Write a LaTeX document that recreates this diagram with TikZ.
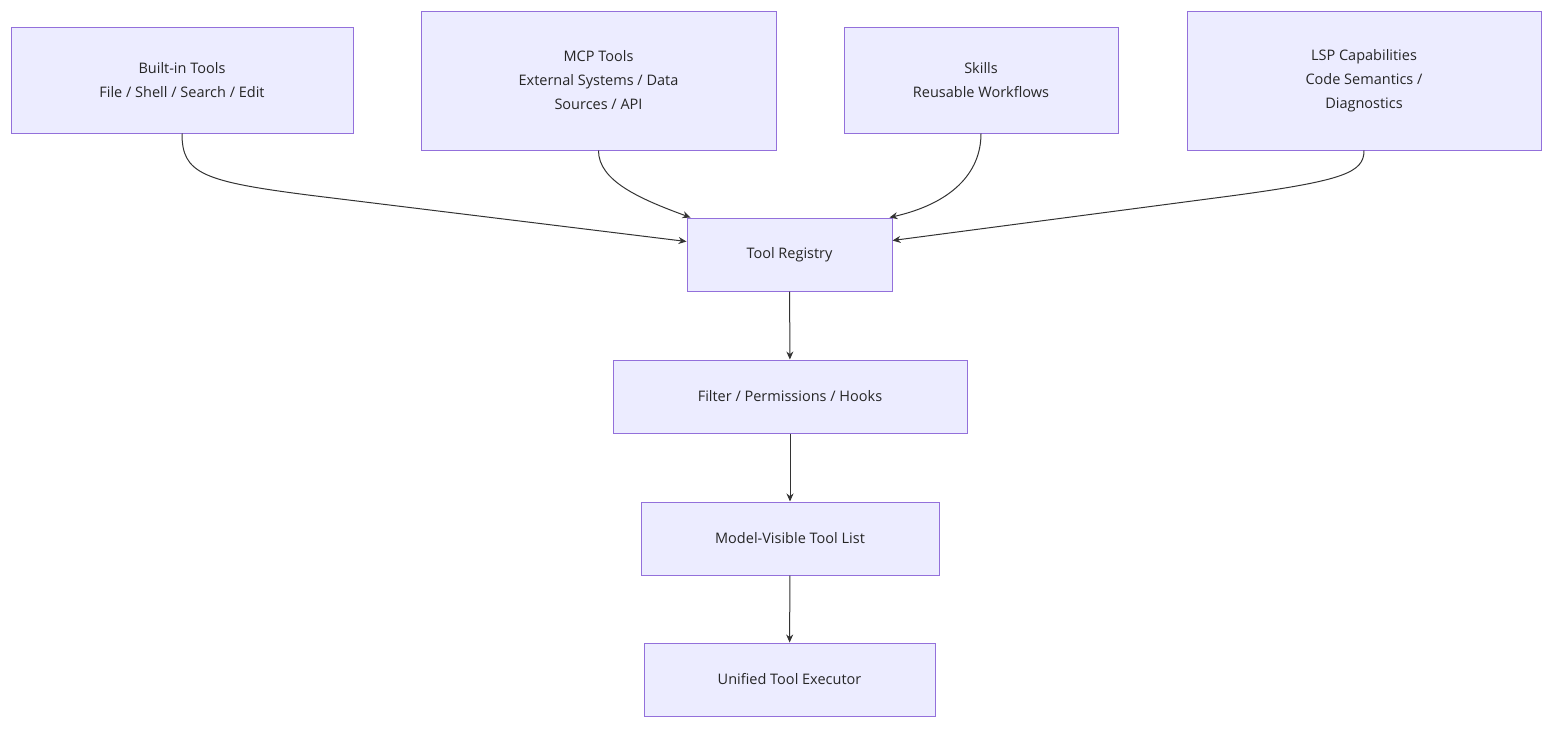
\documentclass[tikz,border=0pt]{standalone}
\usepackage{fontspec}
\setmainfont{Open Sans}
\usetikzlibrary{arrows.meta,calc}
\begin{document}
\begin{tikzpicture}[x=1pt,y=-1pt,
  box/.style={draw=mermaidb,fill=mermaidf,line width=1pt,align=center,font=\fontsize{14.5}{24}\selectfont,text=black!85,inner sep=0pt},
  arr/.style={draw=black!80,line width=1pt,-{Stealth[length=8pt,width=7pt]}}]
\definecolor{mermaidb}{HTML}{9370DB}
\definecolor{mermaidf}{HTML}{ECECFF}
\useasboundingbox (0,0) rectangle (1568,736);
\node[box,minimum width=342pt,minimum height=106pt] (bi) at (182,80) {Built-in Tools\\File / Shell / Search / Edit};
\node[box,minimum width=355pt,minimum height=139pt] (mcp) at (598.5,80.5) {MCP Tools\\External Systems / Data\\Sources / API};
\node[box,minimum width=274pt,minimum height=106pt] (sk) at (981,80) {Skills\\Reusable Workflows};
\node[box,minimum width=354pt,minimum height=139pt] (lsp) at (1364,80.5) {LSP Capabilities\\Code Semantics /\\Diagnostics};
\node[box,minimum width=205pt,minimum height=73pt] (reg) at (789.5,254.5) {Tool Registry};
\node[box,minimum width=354pt,minimum height=73pt] (fil) at (790,396.5) {Filter / Permissions / Hooks};
\node[box,minimum width=298pt,minimum height=73pt] (mv) at (790,538.5) {Model-Visible Tool List};
\node[box,minimum width=291pt,minimum height=73pt] (ex) at (789.5,679.5) {Unified Tool Executor};
\draw[arr] (bi.south) .. controls ($(bi.south)+(0,40)$) and ($(bi.south)+(20,48)$) .. ($(bi.south)+(130,62)$) -- ($(reg.west)+(0,-13)$);
\draw[arr] (mcp.south) .. controls ($(mcp.south)+(0,30)$) and ($(mcp.south)+(40,48)$) .. ($(reg.north west)+(4,0)$);
\draw[arr] (sk.south) .. controls ($(sk.south)+(0,40)$) and ($(sk.south)+(-30,70)$) .. ($(reg.north east)+(-3,0)$);
\draw[arr] (lsp.south) .. controls ($(lsp.south)+(0,22)$) and ($(lsp.south)+(-20,30)$) .. ($(lsp.south)+(-130,45)$) -- ($(reg.east)+(0,-14)$);
\draw[arr] (reg) -- (fil);
\draw[arr] (fil) -- (mv);
\draw[arr] (mv) -- (ex);
\end{tikzpicture}
\end{document}
